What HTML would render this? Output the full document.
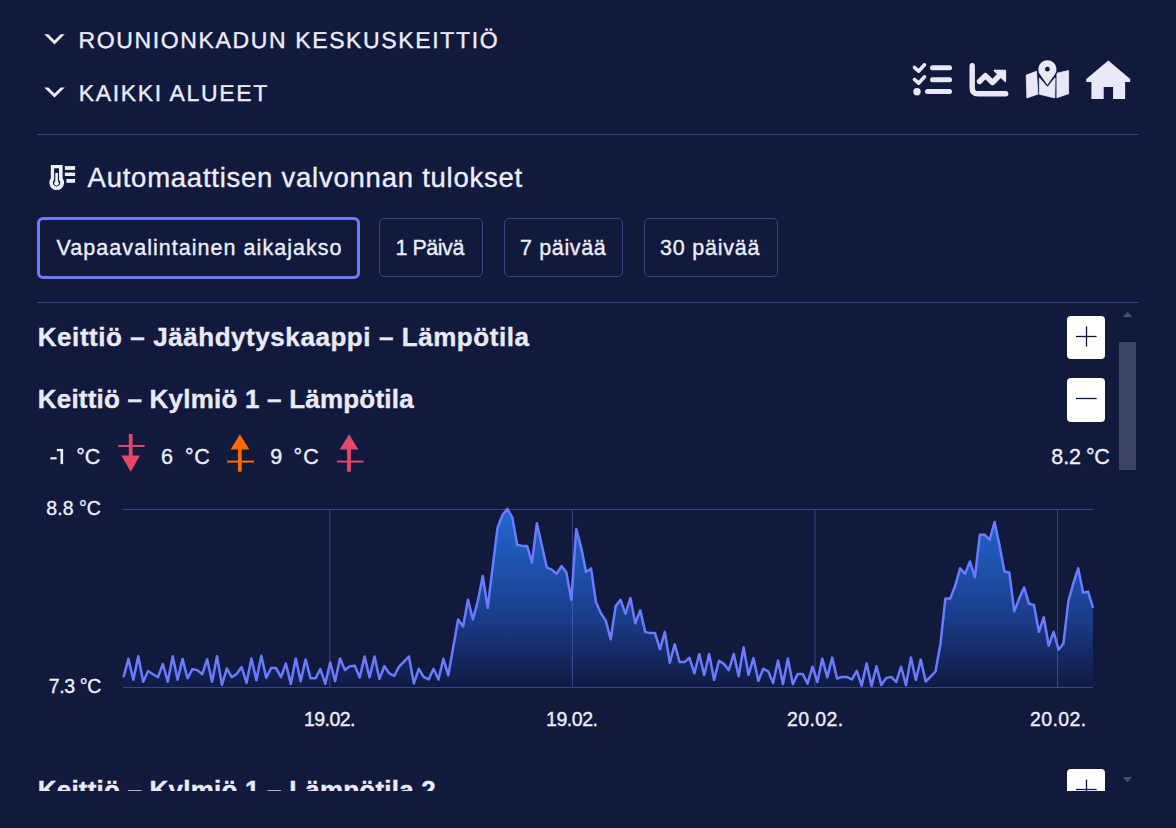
<!DOCTYPE html>
<html><head><meta charset="utf-8">
<style>
html,body{margin:0;padding:0;}
body{width:1176px;height:828px;background:#111a3d;position:relative;overflow:hidden;font-family:"Liberation Sans",sans-serif;color:#eceeff;}
.t{position:absolute;white-space:nowrap;line-height:1;-webkit-text-stroke:0.35px currentColor;}
.btn{position:absolute;box-sizing:border-box;border:1px solid #36447a;border-radius:5px;}
.btn.sel{border:3px solid #6d7cff;border-radius:6px;}
.wb{position:absolute;background:#fff;border-radius:4px;width:38px;height:43px;}
svg{position:absolute;left:0;top:0;}
</style></head><body>
<svg width="1176" height="828" viewBox="0 0 1176 828">
  <defs>
    <linearGradient id="g" x1="0" y1="509" x2="0" y2="687" gradientUnits="userSpaceOnUse">
      <stop offset="0" stop-color="#2068d2"/>
      <stop offset="0.4" stop-color="#1d4ca4"/>
      <stop offset="0.62" stop-color="#1a3c88"/>
      <stop offset="0.8" stop-color="#152b66"/>
      <stop offset="1" stop-color="#111b43"/>
    </linearGradient>
    <clipPath id="clip"><rect x="0" y="303" width="1118" height="488"/></clipPath>
  </defs>
  <polygon points="44.3,34.2 48.3,34.2 54.5,40.4 60.7,34.2 64.7,34.2 54.5,44.4" fill="#f2f3ff"/>
  <polygon points="44.3,87.4 48.3,87.4 54.5,93.6 60.7,87.4 64.7,87.4 54.5,97.6" fill="#f2f3ff"/>
  <g fill="none" stroke="#e8e8f8" stroke-width="3.6" stroke-linecap="round" stroke-linejoin="round">
    <polyline points="914.5,67.5 918.6,71.2 924.5,64.8"/>
    <polyline points="914.5,79.5 918.6,83.2 924.5,76.8"/>
    <line x1="932.5" y1="67.8" x2="949.5" y2="67.8" stroke-width="5"/>
    <line x1="932.5" y1="79.8" x2="949.5" y2="79.8" stroke-width="5"/>
    <line x1="927.5" y1="91.6" x2="949.5" y2="91.6" stroke-width="5"/>
  </g>
  <circle cx="917" cy="91.7" r="3.7" fill="#e8e8f8"/>
  <g fill="none" stroke="#e8e8f8" stroke-width="5.4" stroke-linecap="round" stroke-linejoin="round">
    <path d="M972.2,65.7 V88 Q972.2,93.8 978,93.8 H1005.7"/>
    <polyline points="979.5,81.5 985.4,75.6 992.5,82.5 999.5,75.5"/>
  </g>
  <polygon points="994.5,70.6 1005.4,70.6 1005.4,81.5" fill="#e8e8f8" stroke="#e8e8f8" stroke-width="1.5" stroke-linejoin="round"/>
  <g fill="#e8e8f8" stroke="#e8e8f8" stroke-width="0.8" stroke-linejoin="round">
    <polygon points="1026.2,75.1 1036.5,71.3 1037.9,94.2 1026.9,97.9"/>
    <polygon points="1039.4,77.9 1047.4,86.5 1055.1,77.9 1054.8,97.9 1039.4,94.3"/>
    <polygon points="1056.9,73.2 1068.6,70.5 1068.6,93.7 1056.9,97.7"/>
  </g>
  <path d="M1047.4,85 L1039.98,74.57 A9.1,9.1 0 1,1 1054.82,74.57 Z" fill="#e8e8f8" stroke="#111a3d" stroke-width="2.4" stroke-linejoin="round" paint-order="stroke"/>
  <circle cx="1047.4" cy="69.2" r="2.4" fill="#111a3d"/>
  <polygon points="1108.3,60.6 1130.2,79 1130.2,82 1125.1,82 1125.1,99.1 1113.1,99.1 1113.1,87.1 1103.7,87.1 1103.7,99.1 1091.4,99.1 1091.4,82 1086.3,82 1086.3,79" fill="#e8e8f8"/>
  <rect x="37" y="134" width="1101" height="1" fill="#36447c"/>
  <rect x="37" y="302" width="1101" height="1" fill="#36447c"/>
  <path d="M50.8,165.1 H62.6 V178.2 A7.4,7.4 0 1,1 50.8,178.2 Z M54.1,168.2 V180 A3.7,3.7 0 1,0 59,180 V168.2 Z" fill="#eef0ff" fill-rule="evenodd"/>
  <rect x="55.3" y="172.9" width="2.6" height="9" fill="#eef0ff"/>
  <circle cx="56.5" cy="183.3" r="2.4" fill="#eef0ff"/>
  <rect x="64.9" y="166.1" width="10.2" height="3.8" fill="#eef0ff"/>
  <rect x="64.9" y="172.6" width="10.2" height="3.4" fill="#eef0ff"/>
  <rect x="66.4" y="179" width="8.7" height="3.8" fill="#eef0ff"/>
  <rect x="1119" y="342" width="17" height="128" fill="#3b4466"/>
  <polygon points="1122.8,317 1127.5,311.8 1132.2,317" fill="#474f72"/>
  <polygon points="1122.8,777 1127.5,782.2 1132.2,777" fill="#474f72"/>
  <g stroke="#e4476c" fill="#e4476c">
    <line x1="130.7" y1="434" x2="130.7" y2="458" stroke-width="3.8"/>
    <line x1="118.2" y1="446" x2="144.6" y2="446" stroke-width="2"/>
    <polygon points="121.3,455.5 140,455.5 130.7,471.7" stroke="none"/>
    <line x1="349" y1="448" x2="349" y2="471.7" stroke-width="3.8"/>
    <line x1="336.9" y1="461.6" x2="363.6" y2="461.6" stroke-width="2"/>
    <polygon points="339.8,449.6 358.5,449.6 349.1,434.3" stroke="none"/>
  </g>
  <g stroke="#ff6a00" fill="#ff6a00">
    <line x1="239.8" y1="448" x2="239.8" y2="471.7" stroke-width="3.8"/>
    <line x1="227.2" y1="461.6" x2="254.1" y2="461.6" stroke-width="2"/>
    <polygon points="230.6,449.6 249.3,449.6 239.9,434.3" stroke="none"/>
  </g>
  <path d="M123.50,677.2 L128.42,658.9 L133.34,679.8 L138.26,656.3 L143.19,681.8 L148.11,671.1 L153.03,674.2 L157.95,677.2 L162.87,664.0 L167.79,681.8 L172.71,656.3 L177.63,679.8 L182.56,658.9 L187.48,678.3 L192.40,669.1 L197.32,670.1 L202.24,674.2 L207.16,659.4 L212.08,681.8 L217.01,656.3 L221.93,684.9 L226.85,668.6 L231.77,677.2 L236.69,674.0 L241.61,667.0 L246.53,682.9 L251.45,658.4 L256.38,680.3 L261.30,655.8 L266.22,677.8 L271.14,668.1 L276.06,668.1 L280.98,677.2 L285.90,663.5 L290.82,683.9 L295.75,658.4 L300.67,681.3 L305.59,659.4 L310.51,678.3 L315.43,678.3 L320.35,669.1 L325.27,683.9 L330.20,662.4 L335.12,681.3 L340.04,658.4 L344.96,670.0 L349.88,666.2 L354.80,665.7 L359.72,677.4 L364.64,656.5 L369.57,677.4 L374.49,656.5 L379.41,679.0 L384.33,666.2 L389.25,673.4 L394.17,675.9 L399.09,666.7 L404.02,661.6 L408.94,656.5 L413.86,683.6 L418.78,668.8 L423.70,676.9 L428.62,679.5 L433.54,668.8 L438.46,679.5 L443.39,658.8 L448.31,675.3 L453.23,647.0 L458.15,619.5 L463.07,626.5 L467.99,599.8 L472.91,619.5 L477.84,600.9 L482.76,576.1 L487.68,607.9 L492.60,567.3 L497.52,527.8 L502.44,515.1 L507.36,508.8 L512.28,517.4 L517.21,544.8 L522.13,545.9 L527.05,545.9 L531.97,562.6 L536.89,523.2 L541.81,545.2 L546.73,567.3 L551.65,569.6 L556.58,573.8 L561.50,566.1 L566.42,572.6 L571.34,599.8 L576.26,529.0 L581.18,547.6 L586.10,571.9 L591.03,568.4 L595.95,602.1 L600.87,613.2 L605.79,620.6 L610.71,639.2 L615.63,606.3 L620.55,599.8 L625.47,613.8 L630.40,598.0 L635.32,623.3 L640.24,610.3 L645.16,631.9 L650.08,633.1 L655.00,633.1 L659.92,649.1 L664.85,631.9 L669.77,662.7 L674.69,644.2 L679.61,662.1 L684.53,662.1 L689.45,657.8 L694.37,673.2 L699.29,654.1 L704.22,675.0 L709.14,654.1 L714.06,679.9 L718.98,660.8 L723.90,663.9 L728.82,670.1 L733.74,654.1 L738.66,676.3 L743.59,647.3 L748.51,674.9 L753.43,658.1 L758.35,681.0 L763.27,668.8 L768.19,671.3 L773.11,683.1 L778.04,660.6 L782.96,684.1 L787.88,658.6 L792.80,684.1 L797.72,673.9 L802.64,673.9 L807.56,683.6 L812.48,666.7 L817.41,682.0 L822.33,658.6 L827.25,677.4 L832.17,657.6 L837.09,678.5 L842.01,676.9 L846.93,676.9 L851.86,679.5 L856.78,670.8 L861.70,685.6 L866.62,663.2 L871.54,686.1 L876.46,666.2 L881.38,685.1 L886.30,678.0 L891.23,676.9 L896.15,682.0 L901.07,666.7 L905.99,685.1 L910.91,657.6 L915.83,680.0 L920.75,659.6 L925.68,681.5 L930.60,676.6 L935.52,671.5 L940.44,644.0 L945.36,598.6 L950.28,598.6 L955.20,585.8 L960.12,568.4 L965.05,573.8 L969.97,561.5 L974.89,577.3 L979.81,534.8 L984.73,534.8 L989.65,539.9 L994.57,522.0 L999.49,545.2 L1004.42,571.5 L1009.34,572.4 L1014.26,611.4 L1019.18,598.6 L1024.10,587.4 L1029.02,603.8 L1033.94,604.9 L1038.87,631.8 L1043.79,617.2 L1048.71,645.7 L1053.63,631.8 L1058.55,649.7 L1063.47,643.4 L1068.39,600.9 L1073.31,583.5 L1078.24,568.4 L1083.16,592.8 L1088.08,591.6 L1093.00,607.9 L1093,687 L123.5,687 Z" fill="url(#g)"/>
  <g fill="rgba(100,125,215,0.45)">
  <rect x="123" y="509" width="970" height="1"/>
  <rect x="123" y="687" width="970" height="1"/>
  <rect x="329.3" y="510" width="1" height="177"/>
  <rect x="571.9" y="510" width="1" height="177"/>
  <rect x="814.45" y="510" width="1" height="177"/>
  <rect x="1057" y="510" width="1" height="177"/>
  </g>
  <path d="M123.50,677.2 L128.42,658.9 L133.34,679.8 L138.26,656.3 L143.19,681.8 L148.11,671.1 L153.03,674.2 L157.95,677.2 L162.87,664.0 L167.79,681.8 L172.71,656.3 L177.63,679.8 L182.56,658.9 L187.48,678.3 L192.40,669.1 L197.32,670.1 L202.24,674.2 L207.16,659.4 L212.08,681.8 L217.01,656.3 L221.93,684.9 L226.85,668.6 L231.77,677.2 L236.69,674.0 L241.61,667.0 L246.53,682.9 L251.45,658.4 L256.38,680.3 L261.30,655.8 L266.22,677.8 L271.14,668.1 L276.06,668.1 L280.98,677.2 L285.90,663.5 L290.82,683.9 L295.75,658.4 L300.67,681.3 L305.59,659.4 L310.51,678.3 L315.43,678.3 L320.35,669.1 L325.27,683.9 L330.20,662.4 L335.12,681.3 L340.04,658.4 L344.96,670.0 L349.88,666.2 L354.80,665.7 L359.72,677.4 L364.64,656.5 L369.57,677.4 L374.49,656.5 L379.41,679.0 L384.33,666.2 L389.25,673.4 L394.17,675.9 L399.09,666.7 L404.02,661.6 L408.94,656.5 L413.86,683.6 L418.78,668.8 L423.70,676.9 L428.62,679.5 L433.54,668.8 L438.46,679.5 L443.39,658.8 L448.31,675.3 L453.23,647.0 L458.15,619.5 L463.07,626.5 L467.99,599.8 L472.91,619.5 L477.84,600.9 L482.76,576.1 L487.68,607.9 L492.60,567.3 L497.52,527.8 L502.44,515.1 L507.36,508.8 L512.28,517.4 L517.21,544.8 L522.13,545.9 L527.05,545.9 L531.97,562.6 L536.89,523.2 L541.81,545.2 L546.73,567.3 L551.65,569.6 L556.58,573.8 L561.50,566.1 L566.42,572.6 L571.34,599.8 L576.26,529.0 L581.18,547.6 L586.10,571.9 L591.03,568.4 L595.95,602.1 L600.87,613.2 L605.79,620.6 L610.71,639.2 L615.63,606.3 L620.55,599.8 L625.47,613.8 L630.40,598.0 L635.32,623.3 L640.24,610.3 L645.16,631.9 L650.08,633.1 L655.00,633.1 L659.92,649.1 L664.85,631.9 L669.77,662.7 L674.69,644.2 L679.61,662.1 L684.53,662.1 L689.45,657.8 L694.37,673.2 L699.29,654.1 L704.22,675.0 L709.14,654.1 L714.06,679.9 L718.98,660.8 L723.90,663.9 L728.82,670.1 L733.74,654.1 L738.66,676.3 L743.59,647.3 L748.51,674.9 L753.43,658.1 L758.35,681.0 L763.27,668.8 L768.19,671.3 L773.11,683.1 L778.04,660.6 L782.96,684.1 L787.88,658.6 L792.80,684.1 L797.72,673.9 L802.64,673.9 L807.56,683.6 L812.48,666.7 L817.41,682.0 L822.33,658.6 L827.25,677.4 L832.17,657.6 L837.09,678.5 L842.01,676.9 L846.93,676.9 L851.86,679.5 L856.78,670.8 L861.70,685.6 L866.62,663.2 L871.54,686.1 L876.46,666.2 L881.38,685.1 L886.30,678.0 L891.23,676.9 L896.15,682.0 L901.07,666.7 L905.99,685.1 L910.91,657.6 L915.83,680.0 L920.75,659.6 L925.68,681.5 L930.60,676.6 L935.52,671.5 L940.44,644.0 L945.36,598.6 L950.28,598.6 L955.20,585.8 L960.12,568.4 L965.05,573.8 L969.97,561.5 L974.89,577.3 L979.81,534.8 L984.73,534.8 L989.65,539.9 L994.57,522.0 L999.49,545.2 L1004.42,571.5 L1009.34,572.4 L1014.26,611.4 L1019.18,598.6 L1024.10,587.4 L1029.02,603.8 L1033.94,604.9 L1038.87,631.8 L1043.79,617.2 L1048.71,645.7 L1053.63,631.8 L1058.55,649.7 L1063.47,643.4 L1068.39,600.9 L1073.31,583.5 L1078.24,568.4 L1083.16,592.8 L1088.08,591.6 L1093.00,607.9" fill="none" stroke="#6b7bff" stroke-width="2.5" stroke-linejoin="round"/>
</svg>
<div class="btn sel" style="left:37px;top:217px;width:323px;height:62px;"></div>
<div class="btn" style="left:379px;top:218px;width:104px;height:59px;"></div>
<div class="btn" style="left:504px;top:218px;width:119px;height:59px;"></div>
<div class="btn" style="left:644px;top:218px;width:134px;height:59px;"></div>
<div class="wb" style="left:1067px;top:316px;"></div>
<div class="wb" style="left:1067px;top:378px;height:44px;"></div>
<div class="t" style="left:78.42px;top:29.40px;font-size:23px;letter-spacing:1.636px;font-weight:normal;text-rendering:geometricPrecision;">ROUNIONKADUN KESKUSKEITTIÖ</div>
<div class="t" style="left:78.70px;top:81.70px;font-size:23px;letter-spacing:1.659px;font-weight:normal;text-rendering:geometricPrecision;">KAIKKI ALUEET</div>
<div class="t" style="left:87.54px;top:164.00px;font-size:27.5px;letter-spacing:0.757px;font-weight:normal;">Automaattisen valvonnan tulokset</div>
<div class="t" style="left:56.58px;top:238.40px;font-size:21.5px;letter-spacing:1.040px;font-weight:normal;">Vapaavalintainen aikajakso</div>
<div class="t" style="left:395.42px;top:238.40px;font-size:21.5px;letter-spacing:-0.459px;font-weight:normal;">1 Päivä</div>
<div class="t" style="left:520.12px;top:238.40px;font-size:21.5px;letter-spacing:0.611px;font-weight:normal;">7 päivää</div>
<div class="t" style="left:660.12px;top:238.40px;font-size:21.5px;letter-spacing:0.763px;font-weight:normal;">30 päivää</div>
<div class="t" style="left:37.74px;top:323.70px;font-size:26px;letter-spacing:0.561px;font-weight:bold;color:#e9eafb;">Keittiö – Jäähdytyskaappi – Lämpötila</div>
<div class="t" style="left:37.74px;top:386.20px;font-size:26px;letter-spacing:0.208px;font-weight:bold;color:#e9eafb;">Keittiö – Kylmiö 1 – Lämpötila</div>
<div class="t" style="left:76.20px;top:447.40px;font-size:21.5px;letter-spacing:-0.120px;font-weight:normal;">°C</div>
<div class="t" style="left:161.08px;top:447.40px;font-size:21.5px;letter-spacing:0.000px;font-weight:normal;">6</div>
<div class="t" style="left:185.00px;top:447.40px;font-size:21.5px;letter-spacing:0.620px;font-weight:normal;">°C</div>
<div class="t" style="left:270.16px;top:447.40px;font-size:21.5px;letter-spacing:0.000px;font-weight:normal;">9</div>
<div class="t" style="left:293.54px;top:447.40px;font-size:21.5px;letter-spacing:1.080px;font-weight:normal;">°C</div>
<div class="t" style="left:1051.28px;top:447.40px;font-size:21.5px;letter-spacing:-0.080px;font-weight:normal;">8.2</div>
<div class="t" style="left:1086.12px;top:447.40px;font-size:21.5px;letter-spacing:-0.420px;font-weight:normal;">°C</div>
<div class="t" style="left:46.36px;top:498.70px;font-size:19.5px;letter-spacing:0.004px;font-weight:normal;">8.8 °C</div>
<div class="t" style="left:48.74px;top:677.30px;font-size:19.5px;letter-spacing:-0.348px;font-weight:normal;">7.3 °C</div>
<div class="t" style="left:304.04px;top:709.50px;font-size:19.5px;letter-spacing:-0.564px;font-weight:normal;">19.02.</div>
<div class="t" style="left:546.06px;top:709.50px;font-size:19.5px;letter-spacing:-0.452px;font-weight:normal;">19.02.</div>
<div class="t" style="left:787.06px;top:709.50px;font-size:19.5px;letter-spacing:0.388px;font-weight:normal;">20.02.</div>
<div class="t" style="left:1030.10px;top:709.50px;font-size:19.5px;letter-spacing:0.360px;font-weight:normal;">20.02.</div>

<div style="position:absolute;left:0;top:303px;width:1118px;height:488px;overflow:hidden;">
  <div class="t" style="left:37.74px;top:474.2px;font-size:26px;letter-spacing:0.208px;font-weight:bold;color:#e9eafb;">Keittiö – Kylmiö 1 – Lämpötila 2</div>
  <div class="wb" style="left:1067px;top:466px;"></div>
</div>
<svg width="1176" height="828" viewBox="0 0 1176 828" style="pointer-events:none">
  <g stroke="#0c1445" stroke-width="1.3">
    <line x1="1076" y1="336.5" x2="1096.6" y2="336.5"/>
    <line x1="1086.5" y1="326.3" x2="1086.5" y2="346.6"/>
    <line x1="1076" y1="398.5" x2="1096.6" y2="398.5"/>
  </g>
  <g clip-path="url(#clip)" stroke="#0c1445" stroke-width="1.3">
    <line x1="1076" y1="789.5" x2="1096.6" y2="789.5"/>
    <line x1="1086.5" y1="779.6" x2="1086.5" y2="800"/>
  </g>
  <g fill="#eceeff">
    <rect x="50.3" y="457.2" width="6.4" height="2.2"/>
    <rect x="60.5" y="448.9" width="2.6" height="15.2"/>
    <rect x="56.8" y="448.9" width="4.5" height="2.3"/>
  </g>
</svg>
</body></html>
